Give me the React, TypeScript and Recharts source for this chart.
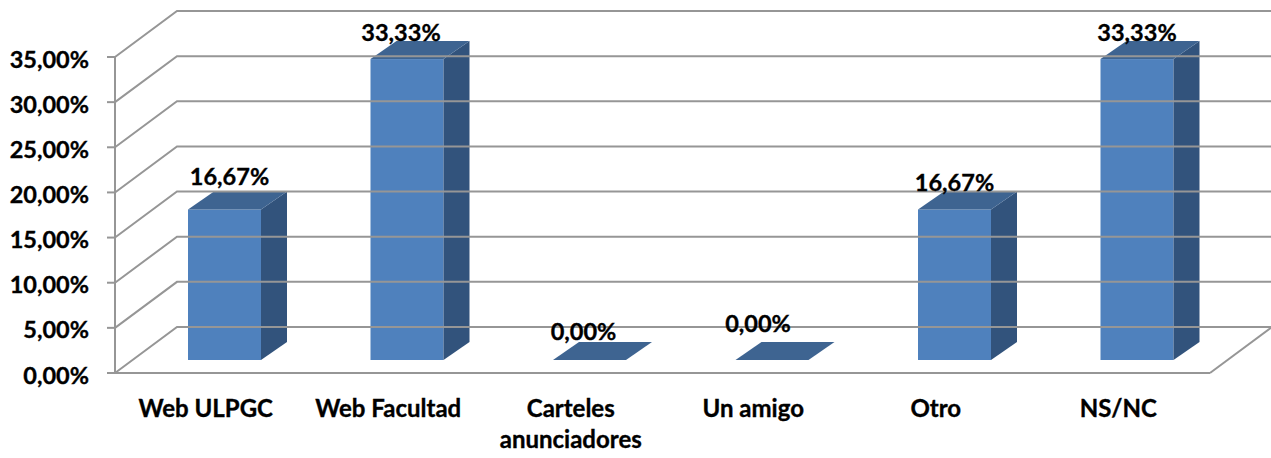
import React from "react";
import { BarChart, Bar, XAxis, YAxis, LabelList } from "recharts";

const categories = ["Web ULPGC", "Web Facultad", "Carteles anunciadores", "Un amigo", "Otro", "NS/NC"];
const values = [16.67, 33.33, 0, 0, 16.67, 33.33];
const yTicks = [0, 5, 10, 15, 20, 25, 30, 35];

const chartData = categories.map((name, i) => ({ name, value: values[i] }));

const FONT = "Lato, sans-serif";
const GREY = "#969696";

// fake 3d: the back wall is shifted from the front plane
const WALL_DX = 62;
const WALL_DY = -46;
const PLOT_LEFT = 115;
const PLOT_RIGHT = 1210;
const CHART_W = 1271;

// bars stand in the middle of the floor
const BAR_SHIFT_X = 18;
const BAR_SHIFT_Y = -13;
const DEPTH_X = 26;
const DEPTH_Y = -18;

// the labels were dragged by hand in the original
const labelNudges = [
  { dx: 5, dy: -33 },
  { dx: -6, dy: -27 },
  { dx: -6, dy: -29 },
  { dx: -14, dy: -37 },
  { dx: 0, dy: -27 },
  { dx: 0, dy: -27 },
];

// Lato bold is a bit lighter than the original face
const textStyle = { stroke: "#000", strokeWidth: 0.35 };

const fmt = (v: number) => v.toFixed(2).replace(".", ",") + "%";

const Box3D = (props: any) => {
  const { x, y, width, height } = props;
  const l = x + BAR_SHIFT_X;
  const r = l + width;
  const t = y + BAR_SHIFT_Y;
  const b = t + height;
  return (
    <g>
      {height > 0 && <rect x={l} y={t} width={width} height={height} fill="#4F81BD" />}
      {height > 0 && (
        <polygon
          points={`${r},${t} ${r + DEPTH_X},${t + DEPTH_Y} ${r + DEPTH_X},${b + DEPTH_Y} ${r},${b}`}
          fill="#32537C"
        />
      )}
      <polygon
        points={`${l},${t} ${l + DEPTH_X},${t + DEPTH_Y} ${r + DEPTH_X},${t + DEPTH_Y} ${r},${t}`}
        fill="#3E6491"
      />
    </g>
  );
};

const YTick = (props: any) => {
  const { y, payload } = props;
  const bx = PLOT_LEFT + WALL_DX;
  const by = y + WALL_DY;
  return (
    <g>
      <polyline points={`${PLOT_LEFT},${y} ${bx},${by} ${CHART_W},${by}`} fill="none" stroke={GREY} strokeWidth={2} />
      {payload.value === 0 && (
        <polyline
          points={`${PLOT_RIGHT},${y} ${PLOT_RIGHT + WALL_DX},${by}`}
          fill="none"
          stroke={GREY}
          strokeWidth={2}
        />
      )}
      <text x={89} y={y + 10.5} textAnchor="end" fontFamily={FONT} fontWeight={700} fontSize={23.5} fill="#000" style={textStyle}>
        {fmt(payload.value)}
      </text>
    </g>
  );
};

const XTick = (props: any) => {
  const { x, payload } = props;
  const words = payload.value === "Carteles anunciadores" ? payload.value.split(" ") : [payload.value];
  return (
    <text textAnchor="middle" fontFamily={FONT} fontWeight={700} fontSize={24} fill="#000" style={textStyle}>
      {words.map((w: string, i: number) => (
        <tspan key={i} x={x - 0.5} y={417 + i * 31}>
          {w}
        </tspan>
      ))}
    </text>
  );
};

const BarLabel = (props: any) => {
  const { x, y, width, value, index } = props;
  const n = labelNudges[index];
  return (
    <text
      x={x + BAR_SHIFT_X + width / 2 + n.dx}
      y={y + BAR_SHIFT_Y + n.dy + 8.5}
      textAnchor="middle"
      fontFamily={FONT}
      fontWeight={700}
      fontSize={23.5}
      fill="#000"
      style={textStyle}
    >
      {fmt(value)}
    </text>
  );
};

export default function App() {
  return (
    <div style={{ position: "absolute", left: 0, top: 0, width: CHART_W, height: 458, background: "#fff" }}>
      <BarChart
        width={CHART_W}
        height={458}
        data={chartData}
        margin={{ top: 57, right: 61, bottom: 0, left: 0 }}
      >
        <XAxis
          dataKey="name"
          interval={0}
          tickLine={false}
          axisLine={{ stroke: GREY, strokeWidth: 2 }}
          tick={<XTick />}
          height={85}
        />
        <YAxis
          domain={[0, 35]}
          ticks={yTicks}
          interval={0}
          width={115}
          tickSize={8}
          tickLine={{ stroke: GREY, strokeWidth: 2 }}
          axisLine={{ stroke: GREY, strokeWidth: 2 }}
          tick={<YTick />}
        />
        <Bar dataKey="value" barSize={73} shape={<Box3D />} isAnimationActive={false}>
          <LabelList dataKey="value" content={<BarLabel />} />
        </Bar>
      </BarChart>
    </div>
  );
}
